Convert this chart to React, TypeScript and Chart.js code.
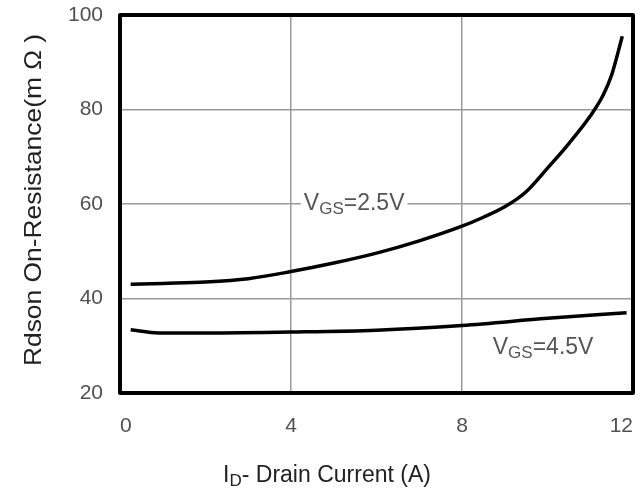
import React, { useEffect, useRef } from "react";
import { Chart, registerables } from "chart.js";

Chart.register(...registerables);

const xTicks = [0, 4, 8, 12];
const yTicks = [20, 40, 60, 80, 100];

const vgs25X = [0.25, 1, 2, 3, 4, 5, 6, 7, 8, 8.5, 9, 9.5, 10, 10.5, 11, 11.3, 11.5, 11.75];
const vgs25Y = [43.0, 43.2, 43.5, 44.2, 45.7, 47.5, 49.6, 52.2, 55.3, 57.2, 59.4, 62.6, 67.6, 72.8, 78.6, 83.0, 87.3, 95.5];

const vgs45X = [0.25, 0.9, 2, 4, 6, 8, 10, 11.85];
const vgs45Y = [33.4, 32.7, 32.7, 32.9, 33.3, 34.3, 35.8, 37.0];

const labels = [
  { main: "V", sub: "GS", rest: "=2.5V", x: 4.3, y: 60 },
  { main: "V", sub: "GS", rest: "=4.5V", x: 8.72, y: 29.7 },
];

const xTitle = { main: "I", sub: "D", rest: "- Drain Current (A)" };
const yTitle = "Rdson On-Resistance(m Ω )";

const FONT = "'Liberation Sans', Arial, sans-serif";

function drawSubText(ctx: CanvasRenderingContext2D, x: number, y: number, main: string, sub: string, rest: string, size: number, color: string, bg: boolean, align: "left" | "center") {
  ctx.save();
  ctx.textBaseline = "middle";
  ctx.fillStyle = color;
  const big = `${size}px ${FONT}`;
  const small = `${Math.round(size * 0.72)}px ${FONT}`;
  ctx.font = big;
  const w1 = ctx.measureText(main).width;
  const w3 = ctx.measureText(rest).width;
  ctx.font = small;
  const w2 = ctx.measureText(sub).width;
  const total = w1 + w2 + w3;
  let sx = align === "center" ? x - total / 2 : x;
  if (bg) {
    ctx.fillStyle = "#ffffff";
    ctx.fillRect(sx - 3, y - size * 0.6, total + 6, size * 1.2);
    ctx.fillStyle = color;
  }
  ctx.font = big;
  ctx.fillText(main, sx, y);
  ctx.font = small;
  ctx.fillText(sub, sx + w1, y + size * 0.25);
  ctx.font = big;
  ctx.fillText(rest, sx + w1 + w2, y);
  ctx.restore();
}

export default function App() {
  const ref = useRef<HTMLCanvasElement | null>(null);
  useEffect(() => {
    if (!ref.current) return;
    const overlay = {
      id: "overlay",
      afterDatasetsDraw(chart: any) {
        const ctx = chart.ctx as CanvasRenderingContext2D;
        const ca = chart.chartArea;
        const xs = chart.scales.x;
        const ys = chart.scales.y;
        for (const l of labels) {
          drawSubText(ctx, xs.getPixelForValue(l.x), ys.getPixelForValue(l.y), l.main, l.sub, l.rest, 23, "#555555", true, "left");
        }
        ctx.save();
        ctx.strokeStyle = "#000000";
        ctx.lineWidth = 4;
        ctx.lineJoin = "round";
        ctx.strokeRect(ca.left, ca.top, ca.right - ca.left, ca.bottom - ca.top);
        ctx.restore();
        drawSubText(ctx, 327, 476, xTitle.main, xTitle.sub, xTitle.rest, 23, "#222222", false, "center");
        ctx.save();
        ctx.translate(34, 200);
        ctx.rotate(-Math.PI / 2);
        ctx.scale(1.1, 1);
        ctx.font = `24px ${FONT}`;
        ctx.fillStyle = "#222222";
        ctx.textAlign = "center";
        ctx.textBaseline = "middle";
        ctx.fillText(yTitle, 0, 0);
        ctx.restore();
      },
    };
    const chart = new Chart(ref.current, {
      type: "scatter",
      data: {
        datasets: [
          {
            label: "VGS=2.5V",
            data: vgs25X.map((x, i) => ({ x, y: vgs25Y[i] })),
            showLine: true,
            borderColor: "#000000",
            borderWidth: 3.5,
            pointRadius: 0,
            cubicInterpolationMode: "monotone",
          },
          {
            label: "VGS=4.5V",
            data: vgs45X.map((x, i) => ({ x, y: vgs45Y[i] })),
            showLine: true,
            borderColor: "#000000",
            borderWidth: 3.5,
            pointRadius: 0,
            cubicInterpolationMode: "monotone",
          },
        ],
      },
      options: {
        animation: false,
        responsive: false,
        devicePixelRatio: 1,
        layout: { padding: { left: 0, top: 15, right: 11, bottom: 0 } },
        plugins: { legend: { display: false }, tooltip: { enabled: false } },
        scales: {
          x: {
            type: "linear",
            min: 0,
            max: 12,
            afterBuildTicks: (s: any) => {
              s.ticks = xTicks.map((v) => ({ value: v }));
            },
            afterFit: (s: any) => {
              s.height = 111;
              s.paddingLeft = 0;
              s.paddingRight = 0;
            },
            grid: { color: "#9a9a9a", lineWidth: 1.5, drawTicks: false },
            border: { display: false },
            ticks: { color: "#505050", font: { family: FONT, size: 21 }, padding: 21, align: "inner" },
          },
          y: {
            type: "linear",
            min: 20,
            max: 100,
            afterBuildTicks: (s: any) => {
              s.ticks = yTicks.map((v) => ({ value: v }));
            },
            afterFit: (s: any) => {
              s.width = 120;
              s.paddingTop = 0;
              s.paddingBottom = 0;
            },
            grid: { color: "#9a9a9a", lineWidth: 1.5, drawTicks: false },
            border: { display: false },
            ticks: { color: "#505050", font: { family: FONT, size: 21 }, padding: 17 },
          },
        },
      },
      plugins: [overlay],
    } as any);
    return () => chart.destroy();
  }, []);
  return (
    <div style={{ position: "fixed", left: 0, top: 0, width: 644, height: 504, background: "#ffffff" }}>
      <canvas ref={ref} width={644} height={504} style={{ width: 644, height: 504 }} />
    </div>
  );
}
